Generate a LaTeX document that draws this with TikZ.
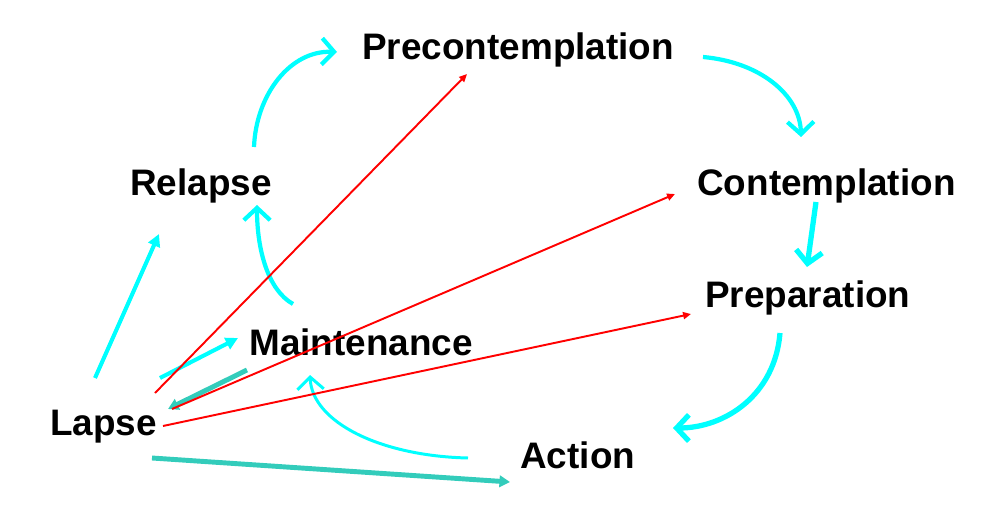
\documentclass[tikz,border=0pt]{standalone}
\usepackage{fontspec}
\setmainfont{Liberation Sans}
\usetikzlibrary{arrows.meta}
\definecolor{aqua}{RGB}{0,255,255}
\definecolor{teal2}{RGB}{51,204,187}
\begin{document}
\begin{tikzpicture}[x=0.02cm,y=-0.02cm,
	stage/.style={anchor=base west,inner sep=0pt,font=\fontsize{21}{25}\selectfont\bfseries},
	cyc/.style={draw=aqua,line width=2.4pt,-{Straight Barb[length=7pt,width=15pt]}},
	lapsearrow/.style={draw=aqua,line width=2.3pt,-{Triangle[length=7pt,width=7pt]}},
	back/.style={draw=teal2,line width=2.8pt,-{Triangle[length=6pt,width=6.5pt]}},
	jump/.style={draw=red,line width=1.1pt,-{Triangle[length=4.5pt,width=4pt]}}]
			\useasboundingbox (0,0) rectangle (1005,527);
			\node[stage] (pre) at (362,60) {Precontemplation};
			\node[stage] (rel) at (130,195) {Relapse};
			\node[stage] (con) at (697,195) {Contemplation};
			\node[stage] (prep) at (705,307) {Preparation};
			\node[stage] (main) at (249,355) {Maintenance};
			\node[stage] (lap) at (50,435) {Lapse};
			\node[stage] (act) at (520,468) {Action};
			% arrow ends
			\coordinate (rel-out) at (254,147);
			\coordinate (pre-in) at (337,52);
			\coordinate (pre-out) at (703,57);
			\coordinate (con-in) at (801,137);
			\coordinate (con-out) at (816,202);
			\coordinate (prep-in) at (807,267);
			\coordinate (prep-out) at (780,333);
			\coordinate (act-in) at (673,428);
			\coordinate (act-out) at (468,458);
			\coordinate (main-in) at (310,375);
			\coordinate (main-out) at (293,304);
			\coordinate (rel-in) at (257,205);
			% the cycle
			\draw[cyc] (rel-out) .. controls (256,95) and (290,50) .. (pre-in);
			\draw[cyc] (pre-out) .. controls (760,62) and (800,95) .. (con-in);
			\draw[cyc,line width=3pt] (con-out) -- (prep-in);
			\draw[cyc,line width=3pt] (prep-out) .. controls (775,395) and (725,428) .. (act-in);
			\draw[cyc,line width=1.7pt] (act-out) .. controls (380,456) and (312,422) .. (main-in);
			\draw[cyc] (main-out) .. controls (268,290) and (257,250) .. (rel-in);
			% out of lapse
			\draw[lapsearrow] (95,378) -- (159,234);
			\draw[lapsearrow] (160,378) -- (238,338);
			\draw[back] (247,370) -- (168,409);
			\draw[back] (152,458) -- (510,482);
			\draw[jump] (155,393) -- (467,74);
			\draw[jump] (172,409) -- (675,194);
			\draw[jump] (163,426) -- (691,314);
		\end{tikzpicture}
\end{document}
